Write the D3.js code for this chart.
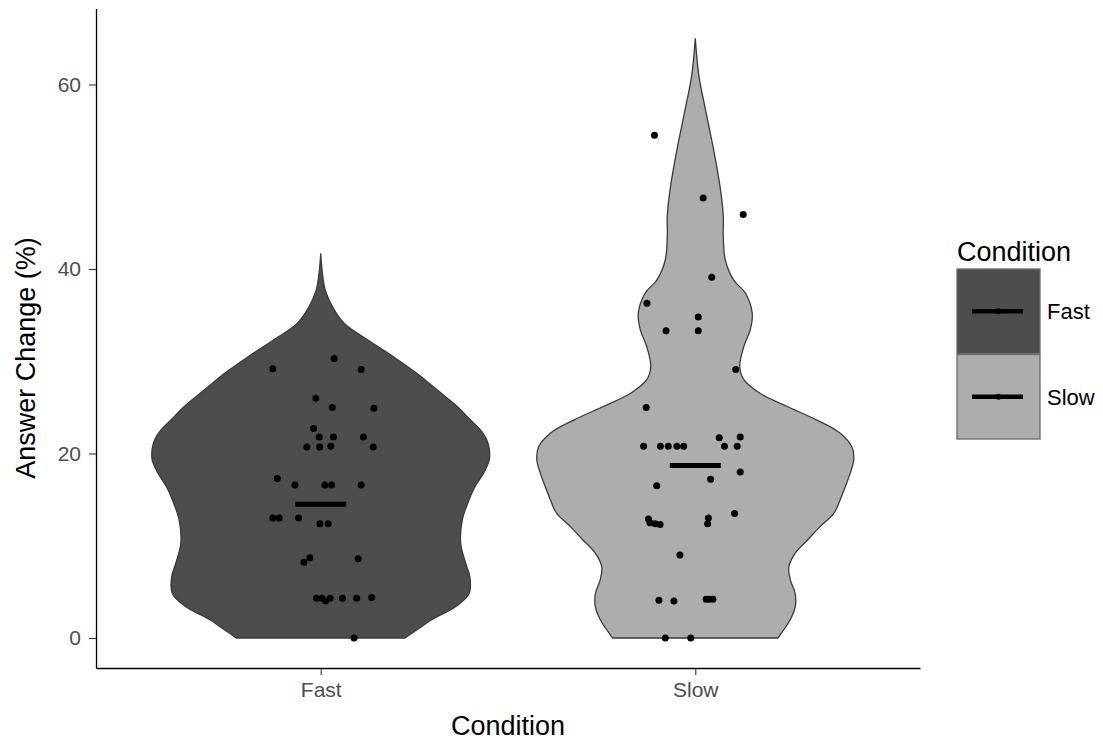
<!DOCTYPE html>
<html>
<head>
<meta charset="utf-8">
<script src="https://cdn.jsdelivr.net/npm/d3@7"></script>
<style>
  body { margin: 0; background: #fff; }
  text { font-family: "Liberation Sans", Arial, Helvetica, sans-serif; }
</style>
</head>
<body>
<svg id="chart" width="1103" height="743"></svg>
<script>
// ---- data ----
const categories = ["Fast", "Slow"];
const fillColors = ["#4d4d4d", "#adadad"];
const yTicks = [0, 20, 40, 60];

// Answer change (%) per participant, with the horizontal jitter (in category units)
const fastValues = [30.3, 29.2, 29.1, 26.0, 25.0, 24.9, 22.7, 21.8, 21.8, 21.8, 20.7, 20.7, 20.8, 20.7,
  17.3, 16.6, 16.6, 16.6, 16.6, 13.0, 13.0, 13.0, 12.4, 12.4, 8.2, 8.7, 8.6,
  4.3, 4.3, 4.0, 4.3, 4.3, 4.3, 4.4, 0.0];
const fastJitter = [0.036, -0.128, 0.108, -0.013, 0.031, 0.142, -0.019, -0.004, 0.034, 0.114, -0.037, -0.003, 0.027, 0.140,
  -0.116, -0.069, 0.011, 0.029, 0.108, -0.128, -0.111, -0.059, -0.002, 0.020, -0.045, -0.029, 0.100,
  -0.011, 0.003, 0.013, 0.025, 0.058, 0.096, 0.136, 0.089];

const slowValues = [54.5, 47.7, 45.9, 39.1, 36.3, 34.8, 33.3, 33.3, 29.1, 25.0,
  20.8, 20.8, 20.8, 20.8, 20.8, 21.7, 20.8, 21.8, 20.8, 18.0, 17.2, 16.5,
  13.5, 12.9, 12.5, 12.4, 12.3, 13.0, 12.4, 9.0, 4.1, 4.0, 4.2, 4.2, 4.2, 0.0, 0.0];
const slowJitter = [-0.109, 0.021, 0.128, 0.044, -0.129, 0.008, -0.078, 0.008, 0.108, -0.131,
  -0.138, -0.093, -0.072, -0.049, -0.031, 0.064, 0.078, 0.120, 0.112, 0.120, 0.041, -0.103,
  0.105, -0.125, -0.121, -0.107, -0.094, 0.035, 0.033, -0.041, -0.097, -0.057, 0.029, 0.037, 0.047, -0.080, -0.012];

// Summary (central value) per condition
const summaryValues = [14.5, 18.7];

// Violin outlines: level (%) and relative density width (1 = widest violin)
const fastLevels = [0, 1, 2.0, 3.4, 4.8, 6.6, 8.1, 10.3, 12.8, 14.5, 16.4, 18.0, 19.3, 20.5, 21.5, 22.5,
  23.6, 25.1, 26.9, 28.7, 30.5, 32.3, 34.1, 35.9, 37.7, 39.7, 41.7];
const fastDensity = [0.50, 0.58, 0.66, 0.80, 0.88, 0.885, 0.86, 0.83, 0.84, 0.87, 0.915, 0.97, 1.0, 1.0, 0.985, 0.95,
  0.89, 0.81, 0.69, 0.57, 0.43, 0.28, 0.14, 0.07, 0.027, 0.009, 0];

const slowLevels = [0, 2.0, 3.4, 4.8, 6.3, 7.7, 9.2, 10.6, 12.1, 13.5, 15.0, 16.4, 17.9, 19.3, 20.7, 22.2,
  23.6, 25.1, 26.5, 28.0, 29.4, 31.6, 33.4, 35.2, 37.4, 38.8, 41.0, 43.6, 45.8, 48.8, 53.1, 57.4, 61.0, 65.0];
const slowDensity = [0.49, 0.564, 0.593, 0.593, 0.564, 0.555, 0.593, 0.665, 0.742, 0.822, 0.86, 0.89, 0.92, 0.94, 0.93, 0.86,
  0.724, 0.546, 0.386, 0.288, 0.264, 0.288, 0.326, 0.338, 0.297, 0.228, 0.178, 0.166, 0.166, 0.148, 0.107, 0.059, 0.021, 0];

// ---- assemble per-condition records ----
const groups = [
  { name: categories[0], fill: fillColors[0], values: fastValues, jitter: fastJitter,
    levels: fastLevels, density: fastDensity, summary: summaryValues[0] },
  { name: categories[1], fill: fillColors[1], values: slowValues, jitter: slowJitter,
    levels: slowLevels, density: slowDensity, summary: summaryValues[1] }
];

// ---- layout ----
const panel = { left: 96, right: 920, top: 8.4, bottom: 668 };
const svg = d3.select("#chart");

const x = d3.scalePoint().domain(categories).range([panel.left, panel.right]).padding(0.6);
const step = x.step();
const y = d3.scaleLinear().domain([-3.25, 68.25]).range([panel.bottom, panel.top]);
const halfWidth = d3.scaleLinear().domain([0, 1]).range([0, step * 0.45]);

// ---- violins ----
groups.forEach(g => {
  const cx = x(g.name);
  const outline = g.levels.map((lv, i) => ({ level: lv, dens: g.density[i] }));
  const area = d3.area()
    .curve(d3.curveCatmullRom.alpha(0.5))
    .y(d => y(d.level))
    .x0(d => cx - halfWidth(d.dens))
    .x1(d => cx + halfWidth(d.dens));
  svg.append("path")
    .attr("d", area(outline))
    .attr("fill", g.fill)
    .attr("stroke", "#3a3a3a")
    .attr("stroke-width", 1.3);
});

// ---- jittered points ----
groups.forEach(g => {
  const cx = x(g.name);
  svg.append("g").selectAll("circle")
    .data(g.values.map((v, i) => ({ v, j: g.jitter[i] })))
    .join("circle")
    .attr("cx", d => cx + d.j * step)
    .attr("cy", d => y(d.v))
    .attr("r", 3.5)
    .attr("fill", "#000");
});

// ---- summary bars ----
groups.forEach(g => {
  const cx = x(g.name);
  svg.append("line")
    .attr("x1", cx - 0.068 * step)
    .attr("x2", cx + 0.068 * step)
    .attr("y1", y(g.summary))
    .attr("y2", y(g.summary))
    .attr("stroke", "#000")
    .attr("stroke-width", 5);
});

// ---- axes ----
const yAxis = svg.append("g")
  .attr("transform", `translate(${panel.left},0)`)
  .call(d3.axisLeft(y).tickValues(yTicks).tickSize(7).tickSizeOuter(0).tickPadding(8));
const xAxis = svg.append("g")
  .attr("transform", `translate(0,${panel.bottom})`)
  .call(d3.axisBottom(x).tickSize(7).tickSizeOuter(0).tickPadding(7));

[yAxis, xAxis].forEach(ax => {
  ax.select(".domain").attr("stroke", "#000").attr("stroke-width", 1.3);
  ax.selectAll(".tick line").attr("stroke", "#333").attr("stroke-width", 1.1);
  ax.selectAll(".tick text")
    .attr("fill", "#4d4d4d")
    .style("font-size", "21px")
    .style("font-family", "'Liberation Sans', Arial, sans-serif");
});

// ---- axis titles ----
svg.append("text")
  .attr("transform", "translate(35,358) rotate(-90)")
  .attr("text-anchor", "middle")
  .style("font-size", "27px")
  .attr("fill", "#000")
  .text("Answer Change (%)");

svg.append("text")
  .attr("x", (panel.left + panel.right) / 2)
  .attr("y", 735)
  .attr("text-anchor", "middle")
  .style("font-size", "27px")
  .attr("fill", "#000")
  .text("Condition");

// ---- legend ----
const legend = svg.append("g").attr("transform", "translate(957,0)");
legend.append("text")
  .attr("x", 0).attr("y", 261)
  .style("font-size", "27px")
  .attr("fill", "#000")
  .text("Condition");

const keyTop = [269, 354.5];
const keyH = 84.5;
groups.forEach((g, i) => {
  const k = legend.append("g").attr("transform", `translate(0,${keyTop[i]})`);
  k.append("rect")
    .attr("x", 0).attr("y", 0)
    .attr("width", 83).attr("height", keyH)
    .attr("fill", g.fill)
    .attr("stroke", "#6a6a6a")
    .attr("stroke-width", 1.3);
  k.append("line")
    .attr("x1", 15).attr("x2", 66)
    .attr("y1", keyH / 2).attr("y2", keyH / 2)
    .attr("stroke", "#000").attr("stroke-width", 4.5);
  k.append("circle")
    .attr("cx", 41.5).attr("cy", keyH / 2).attr("r", 3)
    .attr("fill", "#000");
  k.append("text")
    .attr("x", 90).attr("y", keyH / 2 + 8)
    .style("font-size", "22px")
    .attr("fill", "#000")
    .text(g.name);
});
</script>
</body>
</html>
